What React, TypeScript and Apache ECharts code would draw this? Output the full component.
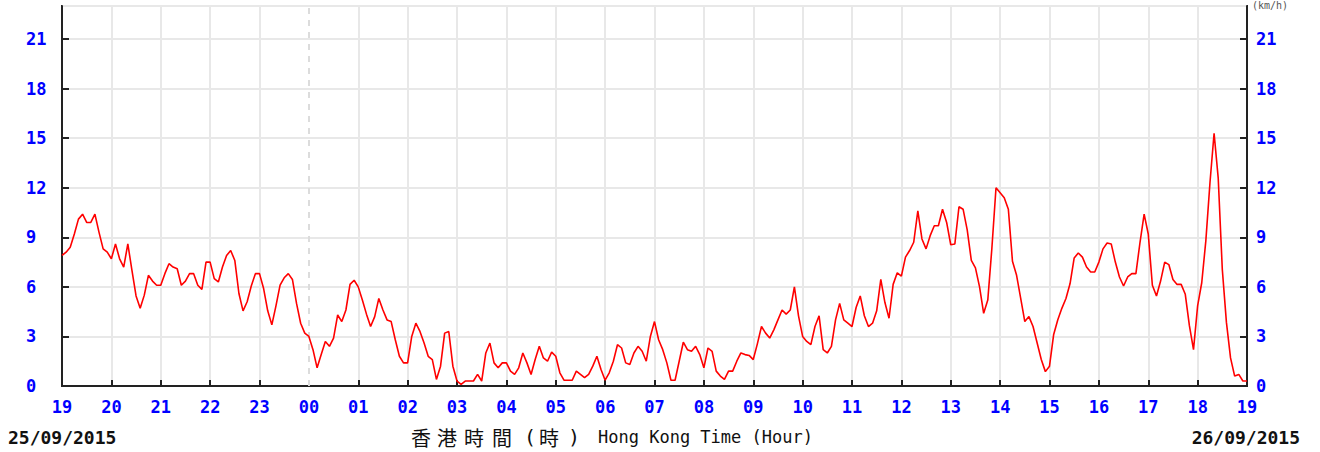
import React, { useEffect, useRef } from 'react';
import * as echarts from 'echarts';

// Hour tick labels (Hong Kong time, 19:00 on 25/09 to 19:00 on 26/09)
const hourLabels = [
  '19', '20', '21', '22', '23', '00', '01', '02', '03', '04', '05', '06', '07',
  '08', '09', '10', '11', '12', '13', '14', '15', '16', '17', '18', '19',
];

// Wind speed (km/h), one reading every 5 minutes starting at 19:00
const speeds = [
  // 19
  7.9, 8.1, 8.4, 9.2, 10.1, 10.4, 9.9, 9.9, 10.4, 9.3, 8.3, 8.1,
  // 20
  7.7, 8.6, 7.7, 7.2, 8.6, 7.0, 5.45, 4.7, 5.5, 6.7, 6.35, 6.1,
  // 21
  6.1, 6.8, 7.4, 7.2, 7.1, 6.1, 6.35, 6.8, 6.8, 6.1, 5.85, 7.5,
  // 22
  7.5, 6.5, 6.3, 7.2, 7.9, 8.2, 7.6, 5.6, 4.55, 5.1, 6.05, 6.8,
  // 23
  6.8, 5.9, 4.55, 3.7, 4.85, 6.1, 6.55, 6.8, 6.45, 5.0, 3.8, 3.2,
  // 00
  3.0, 2.2, 1.1, 1.9, 2.7, 2.4, 2.9, 4.3, 3.9, 4.6, 6.15, 6.4,
  // 01
  6.0, 5.2, 4.35, 3.6, 4.2, 5.3, 4.6, 4.0, 3.9, 2.8, 1.8, 1.4,
  // 02
  1.4, 3.0, 3.8, 3.3, 2.6, 1.8, 1.6, 0.4, 1.2, 3.2, 3.3, 1.2,
  // 03
  0.3, 0.1, 0.3, 0.3, 0.3, 0.7, 0.3, 2.0, 2.6, 1.4, 1.1, 1.4,
  // 04
  1.4, 0.9, 0.7, 1.1, 2.0, 1.4, 0.7, 1.6, 2.4, 1.7, 1.5, 2.05,
  // 05
  1.8, 0.8, 0.35, 0.35, 0.35, 0.9, 0.7, 0.5, 0.7, 1.2, 1.8, 1.0,
  // 06
  0.35, 0.8, 1.5, 2.5, 2.3, 1.4, 1.3, 2.0, 2.4, 2.1, 1.5, 3.0,
  // 07
  3.9, 2.8, 2.2, 1.4, 0.35, 0.35, 1.5, 2.65, 2.2, 2.1, 2.4, 1.9,
  // 08
  1.1, 2.3, 2.1, 0.9, 0.6, 0.4, 0.9, 0.9, 1.5, 2.0, 1.9, 1.85,
  // 09
  1.6, 2.55, 3.6, 3.2, 2.9, 3.4, 4.0, 4.6, 4.35, 4.6, 6.0, 4.25,
  // 10
  3.0, 2.7, 2.5, 3.6, 4.25, 2.2, 2.0, 2.4, 4.0, 5.0, 4.0, 3.8,
  // 11
  3.6, 4.75, 5.45, 4.25, 3.6, 3.8, 4.55, 6.45, 5.05, 4.1, 6.15, 6.85,
  // 12
  6.65, 7.8, 8.2, 8.7, 10.6, 8.9, 8.3, 9.1, 9.7, 9.7, 10.7, 9.9,
  // 13
  8.55, 8.6, 10.85, 10.7, 9.45, 7.6, 7.15, 6.0, 4.4, 5.2, 8.35, 12.0,
  // 14
  11.7, 11.4, 10.7, 7.55, 6.7, 5.3, 3.9, 4.2, 3.6, 2.6, 1.6, 0.87,
  // 15
  1.2, 3.1, 4.0, 4.7, 5.3, 6.2, 7.75, 8.05, 7.8, 7.2, 6.9, 6.9,
  // 16
  7.5, 8.3, 8.65, 8.6, 7.5, 6.6, 6.05, 6.6, 6.8, 6.8, 8.7, 10.4,
  // 17
  9.2, 6.1, 5.45, 6.35, 7.5, 7.35, 6.45, 6.15, 6.15, 5.55, 3.65, 2.2,
  // 18
  4.85, 6.25, 8.8, 12.3, 15.3, 12.6, 7.05, 3.85, 1.7, 0.6, 0.7, 0.3,
  // 19
  0.3,
];

const SAMPLE_MINUTES = 5;
const MIDNIGHT_MINUTE = 300;

export default function App() {
  const ref = useRef<HTMLDivElement>(null);

  useEffect(() => {
    if (!ref.current) return;
    const chart = echarts.init(ref.current, null, { renderer: 'svg' });
    const data = speeds.map((v, i) => [i * SAMPLE_MINUTES, v]);
    const splitColors = hourLabels.map((l, i) =>
      i * 60 === MIDNIGHT_MINUTE ? 'rgba(0,0,0,0)' : '#e8e8e8'
    );
    const labelStyle = {
      color: '#0000ff',
      fontFamily: 'DejaVu Sans Mono',
      fontWeight: 'bold' as const,
      fontSize: 17,
    };
    const axisLine = { show: true, lineStyle: { color: '#222', width: 2 } };
    const tick = { show: true, inside: true, length: 7, lineStyle: { color: '#222', width: 2 } };
    const mono = 'DejaVu Sans Mono';
    const cjk = '"Noto Sans CJK TC"';

    const cjkChars: [string, number, string][] = [
      ['香', 421, cjk],
      ['港', 447, cjk],
      ['時', 474, cjk],
      ['間', 502, cjk],
      ['(', 530, mono],
      ['時', 549, cjk],
      [')', 574, mono],
    ];

    chart.setOption({
      animation: false,
      backgroundColor: '#ffffff',
      grid: {
        left: 62,
        right: 73,
        top: 6,
        bottom: 66,
        show: true,
        borderColor: '#222',
        borderWidth: 2,
      },
      xAxis: {
        type: 'value',
        min: 0,
        max: 1440,
        interval: 60,
        axisLine,
        axisTick: { ...tick, length: 6 },
        axisLabel: {
          ...labelStyle,
          margin: 12,
          formatter: (v: number) => hourLabels[Math.round(v / 60)] ?? '',
        },
        splitLine: { show: true, lineStyle: { color: splitColors, width: 2 } },
      },
      yAxis: [
        {
          type: 'value',
          position: 'left',
          min: 0,
          max: 23,
          interval: 3,
          axisLine,
          axisTick: tick,
          axisLabel: { ...labelStyle, align: 'left', margin: 36, showMaxLabel: false },
          splitLine: { show: true, lineStyle: { color: '#e8e8e8', width: 2 } },
        },
        {
          type: 'value',
          position: 'right',
          min: 0,
          max: 23,
          interval: 3,
          axisLine,
          axisTick: tick,
          axisLabel: { ...labelStyle, align: 'left', margin: 9, showMaxLabel: false },
          splitLine: { show: false },
        },
      ],
      series: [
        {
          type: 'line',
          data,
          yAxisIndex: 0,
          showSymbol: false,
          symbol: 'none',
          lineStyle: { color: '#ff0000', width: 1.6 },
          z: 5,
          markLine: {
            silent: true,
            symbol: 'none',
            label: { show: false },
            lineStyle: { color: '#dcdcdc', type: [6, 6], width: 2 },
            data: [{ xAxis: MIDNIGHT_MINUTE }],
          },
        },
      ],
      graphic: [
        {
          type: 'text',
          left: 8,
          top: 428,
          style: { text: '25/09/2015', font: `bold 18px ${mono}`, fill: '#111' },
        },
        {
          type: 'text',
          right: 20,
          top: 428,
          style: { text: '26/09/2015', font: `bold 18px ${mono}`, fill: '#111' },
        },
        ...cjkChars.map(([t, cx, f]) => ({
          type: 'text',
          x: cx,
          y: 437,
          style: {
            text: t,
            font: `20px ${f}`,
            fill: '#111',
            textAlign: 'center',
            align: 'center',
            textVerticalAlign: 'middle',
            verticalAlign: 'middle',
          },
        })),
        {
          type: 'text',
          x: 598,
          y: 437,
          style: {
            text: 'Hong Kong Time (Hour)',
            font: `17px ${mono}`,
            fill: '#111',
            textVerticalAlign: 'middle',
            verticalAlign: 'middle',
          },
        },
        {
          type: 'text',
          x: 1252,
          y: 0,
          style: {
            text: '(km/h)',
            font: `10px ${mono}`,
            fill: '#555',
            textVerticalAlign: 'top',
            verticalAlign: 'top',
          },
        },
      ],
    });
    return () => chart.dispose();
  }, []);

  return (
    <div
      ref={ref}
      style={{ position: 'absolute', left: 0, top: 0, width: 1320, height: 452 }}
    />
  );
}
